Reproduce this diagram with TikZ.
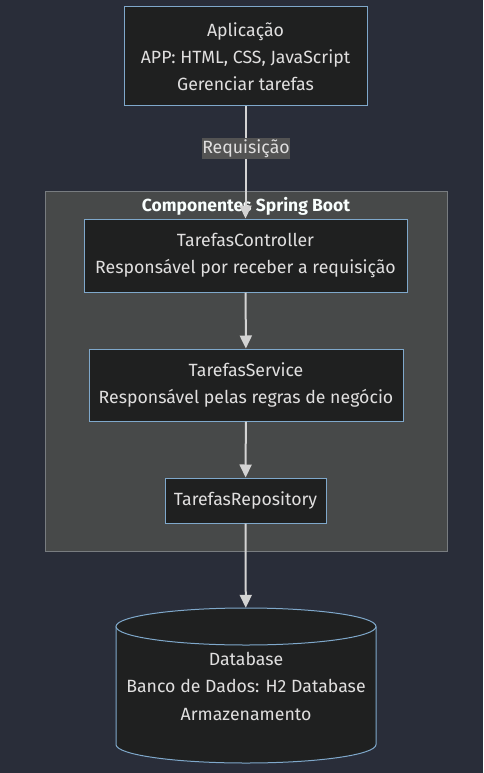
\documentclass[tikz,border=0pt]{standalone}
\usepackage{fontspec}
\setmainfont{Fira Sans}
\usetikzlibrary{arrows.meta}
\definecolor{bgc}{RGB}{41,45,57}
\definecolor{nodefill}{HTML}{1F2020}
\definecolor{nodeborder}{HTML}{7FA8CB}
\definecolor{clusterfill}{HTML}{474949}
\definecolor{clusterborder}{HTML}{787C80}
\definecolor{linec}{HTML}{D3D3D3}
\definecolor{textc}{HTML}{E0DFDF}
\definecolor{titlec}{HTML}{F9FFFE}
\definecolor{lblbg}{HTML}{535353}
\tikzset{
  comp/.style={draw=nodeborder, fill=nodefill, line width=1pt, text=textc,
    align=center, inner sep=0pt, font=\fontsize{17.7}{27}\selectfont},
  flow/.style={draw=linec, line width=2pt, -{Triangle[width=12pt,length=13pt]}},
  edgelbl/.style={fill=lblbg, text=textc, inner sep=0pt, minimum width=87pt,
    minimum height=21pt, font=\fontsize{17.7}{20}\selectfont},
}
\begin{document}
\begin{tikzpicture}[x=1pt,y=-1pt]
  \fill[bgc] (0,0) rectangle (483,773);
  \useasboundingbox (0,0) rectangle (483,773);
  % cluster
  \node[draw=clusterborder, fill=clusterfill, line width=1pt, minimum width=402pt,
    minimum height=360pt, inner sep=0pt] (cluster) at (246,371) {};
  \node[text=titlec, font=\bfseries\fontsize{17.5}{20}\selectfont, inner sep=0pt,
    anchor=base] (ctitle) at (246,211) {Componentes Spring Boot};
  % nodes
  \node[comp, minimum width=243pt, minimum height=99pt] (app) at (245.5,56.5)
    {Aplicação\\APP: HTML, CSS, JavaScript\\Gerenciar tarefas};
  \node[comp, minimum width=323pt, minimum height=73pt] (ctrl) at (245.5,255.5)
    {TarefasController\\Responsável por receber a requisição};
  \node[comp, minimum width=314pt, minimum height=72pt] (svc) at (246,385)
    {TarefasService\\Responsável pelas regras de negócio};
  \node[comp, minimum width=161pt, minimum height=45pt] (repo) at (245.5,500.5)
    {TarefasRepository};
  % database cylinder
  \node[inner sep=0pt, minimum width=260pt, minimum height=155pt] (db) at (246,685.5) {};
  \fill[nodefill] (116,626.5) -- (116,744.5)
    arc[start angle=180, end angle=0, x radius=130, y radius=18.5]
    -- (376,626.5) -- cycle;
  \fill[nodefill] (246,626.5) ellipse[x radius=130, y radius=18.5];
  \draw[nodeborder, line width=1pt] (246,626.5) ellipse[x radius=130, y radius=18.5];
  \draw[nodeborder, line width=1pt] (116,626.5) -- (116,744.5)
    arc[start angle=180, end angle=0, x radius=130, y radius=18.5] -- (376,626.5);
  \node[text=textc, align=center, inner sep=0pt, font=\fontsize{17.7}{27.5}\selectfont]
    (dbtext) at (246,686) {Database\\Banco de Dados: H2 Database\\Armazenamento};
  % connectors
  \draw[flow] (app) -- (ctrl);
  \node[edgelbl] (lbl) at (246,148.5) {Requisição};
  \draw[flow] (ctrl) -- (svc);
  \draw[flow] (svc) -- (repo);
  \draw[flow] (repo) -- (db);
\end{tikzpicture}
\end{document}
